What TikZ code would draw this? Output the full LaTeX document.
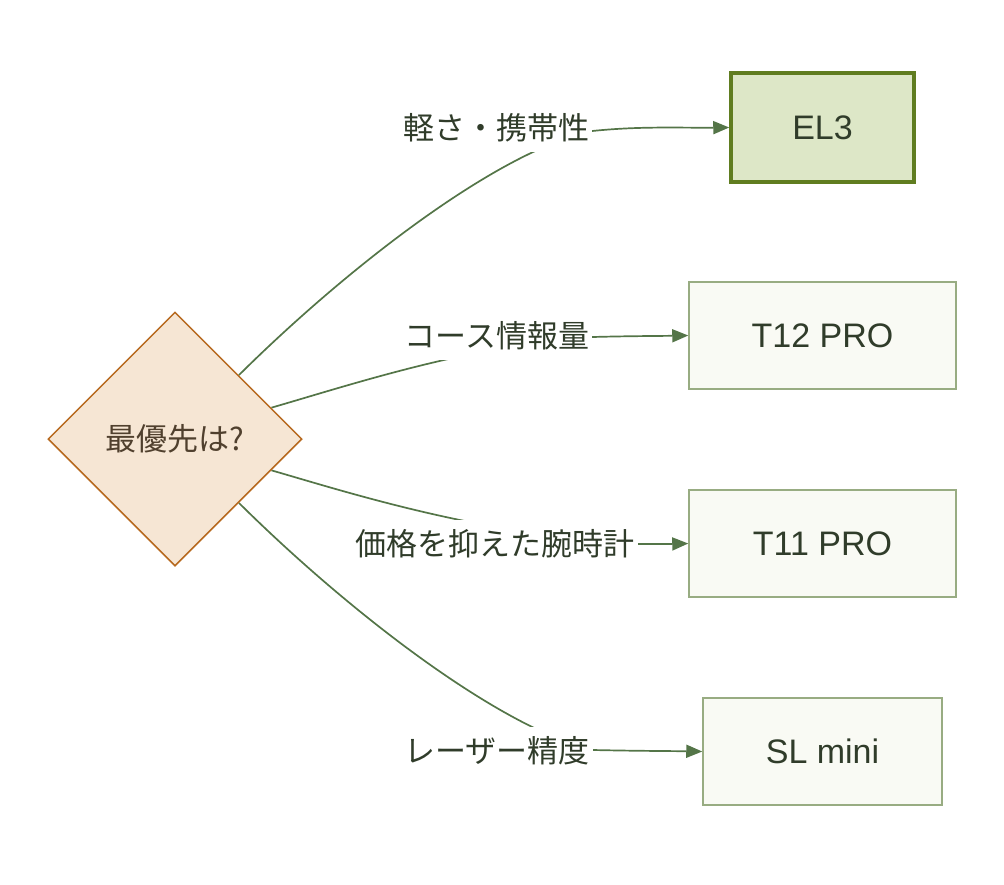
\documentclass[tikz,border=0pt]{standalone}
\usepackage{fontspec}
\setmainfont{Liberation Sans}
\newfontfamily\cjk{Noto Sans CJK JP}
\usetikzlibrary{shapes.geometric,arrows.meta,calc}
\pgfdeclarelayer{edgelayer}
\pgfsetlayers{edgelayer,main}
\definecolor{edgecol}{RGB}{84,117,72}
\definecolor{elstroke}{RGB}{96,125,32}
\definecolor{elfill}{RGB}{221,231,199}
\definecolor{boxstroke}{RGB}{152,172,130}
\definecolor{boxfill}{RGB}{249,250,244}
\definecolor{txt}{RGB}{48,60,42}
\definecolor{dfill}{RGB}{246,230,212}
\definecolor{dstroke}{RGB}{183,105,30}
\definecolor{dtxt}{RGB}{80,64,46}
\begin{document}
\begin{tikzpicture}[x=1pt,y=-1pt,
  prodbox/.style={draw=boxstroke,fill=boxfill,line width=1.5pt,text=txt,
    font=\fontsize{34}{40}\selectfont,inner sep=0pt},
  elbox/.style={draw=elstroke,fill=elfill,line width=3.5pt,text=txt,
    font=\fontsize{34}{40}\selectfont,inner sep=0pt},
  decision/.style={diamond,draw=dstroke,fill=dfill,line width=1.5pt,text=dtxt,
    font=\cjk\fontsize{31}{38}\selectfont,inner sep=0pt,minimum width=254pt,minimum height=254pt},
  elabel/.style={fill=white,text=txt,font=\cjk\fontsize{31}{38}\selectfont,
    inner xsep=3pt,inner ysep=0pt,minimum height=48pt},
  conn/.style={draw=edgecol,line width=1.7pt},
  tip/.style={-{Triangle[length=16pt,width=13pt]}}
]
\useasboundingbox (0,0) rectangle (1004,884);

\node[decision] (d) at (175,439) {最優先は?};

\node[elbox,minimum width=183pt,minimum height=109pt] (el3) at (822.5,127.5) {EL3};
\node[prodbox,minimum width=267pt,minimum height=107pt] (t12) at (822.5,335.5) {T12 PRO};
\node[prodbox,minimum width=267pt,minimum height=107pt] (t11) at (822.5,543.5) {T11 PRO};
\node[prodbox,minimum width=239pt,minimum height=107pt] (slm) at (822.5,751.5) {SL mini};

\node[elabel] (l1) at (496,128) {軽さ・携帯性};
\node[elabel] (l2) at (497,336) {コース情報量};
\node[elabel] (l3) at (495,544) {価格を抑えた腕時計};
\node[elabel] (l4) at (497,751) {レーザー精度};

\begin{pgfonlayer}{edgelayer}
\draw[conn,tip] (d.north east) .. controls (350,265) and (500,150) .. ($(l1.east)+(0,3)$)
  .. controls (640,126) and (680,128) .. (el3.west);
\draw[conn,tip] (d.18) .. controls (350,385) and (470,345) .. ($(l2.east)+(0,1)$)
  .. controls (630,336) and (660,336) .. (t12.west);
\draw[conn,tip] (d.-18) .. controls (350,493) and (480,535) .. ($(l3.east)$)
  .. controls (655,544) and (670,544) .. (t11.west);
\draw[conn,tip] (d.south east) .. controls (350,613) and (500,728) .. ($(l4.east)+(0,-1)$)
  .. controls (640,751) and (670,751) .. (slm.west);
\end{pgfonlayer}
\end{tikzpicture}
\end{document}
